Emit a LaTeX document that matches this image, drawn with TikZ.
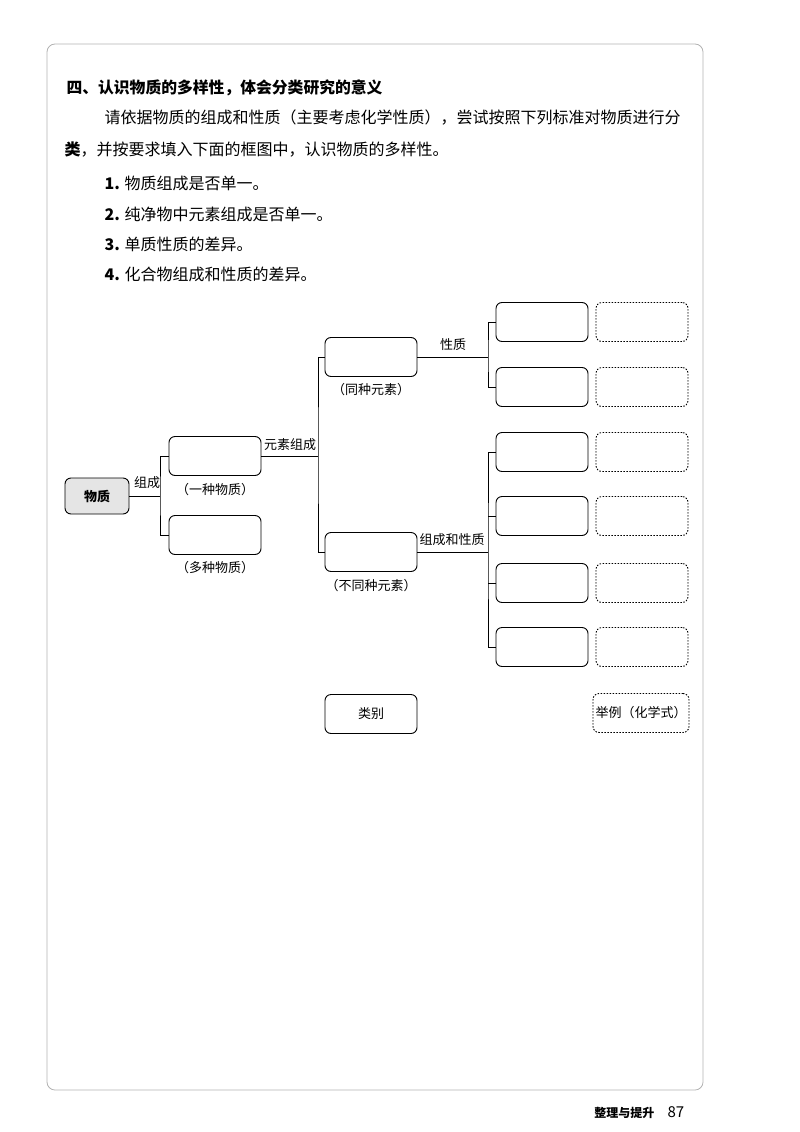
\documentclass[tikz,border=0pt]{standalone}
\usepackage{fontspec}
\setmainfont{Noto Sans CJK SC}
\begin{document}
\begin{tikzpicture}[x=1pt,y=-1pt,
 box/.style={draw,line width=0.9pt,rounded corners=6pt,minimum width=92pt,minimum height=39pt,inner sep=0},
 dbox/.style={box,dashed,dash pattern=on 1.5pt off 1.5pt},
 lab/.style={font=\fontsize{13}{15}\selectfont},
 txt/.style={anchor=west,font=\fontsize{16}{18}\selectfont},
 ln/.style={line width=0.9pt}]
\useasboundingbox (0,0) rectangle (800,1132);
\draw[gray!60,line width=0.8pt,rounded corners=8pt] (47,44) -- (47,1090) -- (703,1090) -- (703,44) -- cycle;
\node[anchor=west,font=\bfseries\fontsize{15.8}{18}\selectfont] (h) at (63,88) {四、认识物质的多样性，体会分类研究的意义};
\node[txt] (p1) at (101,118) {请依据物质的组成和性质（主要考虑化学性质），尝试按照下列标准对物质进行分};
\node[txt] (p2) at (61,150) {\textbf{类}，并按要求填入下面的框图中，认识物质的多样性。};
\node[txt] (i1) at (101,183) {\textbf{1.} 物质组成是否单一。};
\node[txt] (i2) at (101,214) {\textbf{2.} 纯净物中元素组成是否单一。};
\node[txt] (i3) at (101,244) {\textbf{3.} 单质性质的差异。};
\node[txt] (i4) at (101,274) {\textbf{4.} 化合物组成和性质的差异。};
% nodes
\node[draw,line width=0.9pt,rounded corners=6pt,fill=gray!20,minimum width=64pt,minimum height=36pt,font=\bfseries\fontsize{13}{15}\selectfont] (wz) at (97,496) {物质};
\node[box] (yz) at (215,456) {};
\node[box] (dz) at (215,535) {};
\node[lab] at (215,490) {（一种物质）};
\node[lab] at (215,568) {（多种物质）};
\node[box] (tz) at (371,357) {};
\node[box] (bt) at (371,552) {};
\node[lab] at (371,390) {（同种元素）};
\node[lab] at (371,586) {（不同种元素）};
\foreach \i/\y in {1/322,2/387,3/452,4/516,5/583,6/647}{
 \node[box] (a\i) at (542,\y) {};
 \node[dbox] (b\i) at (642,\y) {};
}
\node[box,lab] (lb) at (371,714) {类别};
\node[dbox,lab,minimum width=96pt] (lj) at (641,713) {举例（化学式）};
% connectors
\coordinate (c1) at (160,496);
\draw[ln] (wz.east) -- (c1);
\draw[ln] (yz.west) -| (c1) |- (dz.west);
\node[lab] at (147,483) {组成};
\coordinate (c2) at (318,456);
\draw[ln] (yz.east) -- (c2);
\draw[ln] (tz.west) -| (c2) |- (bt.west);
\node[lab] at (290,445) {元素组成};
\coordinate (c3) at (488,357);
\draw[ln] (tz.east) -- (c3);
\draw[ln] (a1.west) -| (c3) |- (a2.west);
\node[lab] at (453,345) {性质};
\coordinate (c4) at (488,552);
\draw[ln] (bt.east) -- (c4);
\draw[ln] (a3.west) -| (c4) |- (a6.west);
\draw[ln] (a4.west) -- (a4.west-|c4);
\draw[ln] (a5.west) -- (a5.west-|c4);
\node[lab] at (452,540) {组成和性质};
\node[anchor=east,font=\bfseries\fontsize{12}{14}\selectfont] (ft) at (658,1113) {整理与提升};
\node[anchor=west,font=\fontsize{15}{17}\selectfont] (pg) at (664,1112) {87};
\end{tikzpicture}
\end{document}
